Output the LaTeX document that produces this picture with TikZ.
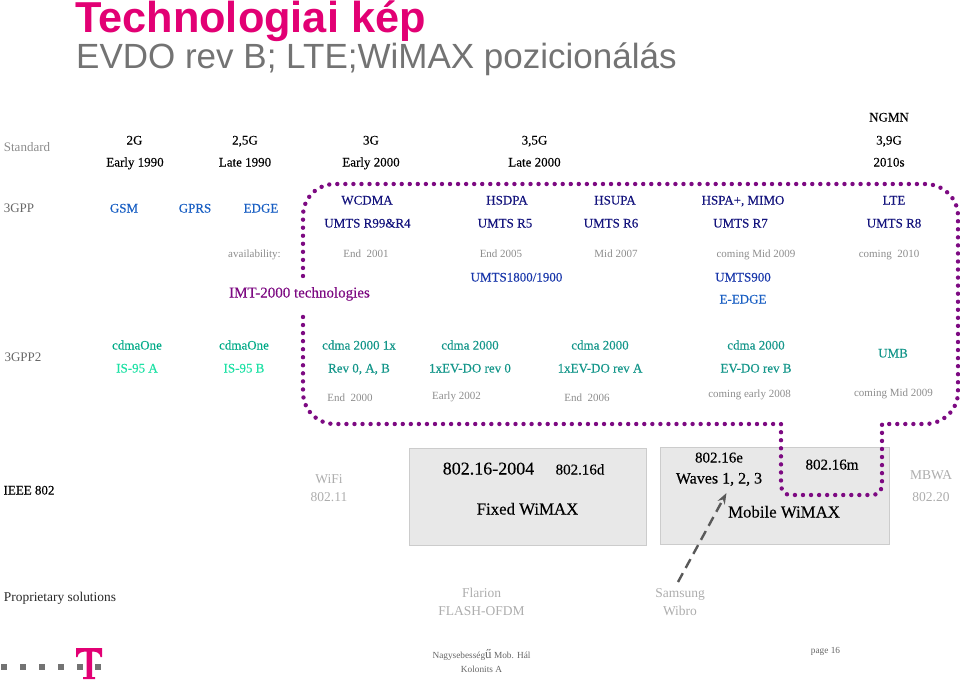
\documentclass[tikz,border=0pt]{standalone}
\usepackage{fontspec}
\setmainfont{Liberation Serif}
\newfontfamily\hdfont{Liberation Sans}
\newfontfamily\heavy[FakeBold=0.25]{Liberation Serif}
\usetikzlibrary{arrows.meta}
\definecolor{navyt}{RGB}{20,20,125}
\definecolor{bluet}{RGB}{25,95,195}
\definecolor{midb}{RGB}{25,55,170}
\definecolor{purp}{RGB}{125,10,130}
\definecolor{teal0}{RGB}{20,150,138}
\definecolor{teal1}{RGB}{0,170,135}
\definecolor{teal2}{RGB}{30,225,165}
\definecolor{magt}{RGB}{226,0,116}
\definecolor{boxg}{RGB}{232,232,232}
\tikzset{
 x=1pt,y=-1pt,
 lab/.style={inner sep=0pt,text height=9pt,text depth=0pt,font=\heavy\fontsize{13}{13}\selectfont},
 hd/.style={lab,text=black},
 rowh/.style={lab,font=\fontsize{13}{13}\selectfont,text=black!60},
 navy/.style={lab,text=navyt},
 blu/.style={lab,text=bluet},
 mid/.style={lab,text=midb},
 cdz/.style={lab,text=teal0},
 avail/.style={lab,text height=6pt,text=black!45,font=\fontsize{11}{11}\selectfont},
 faint/.style={lab,text=black!32,font=\fontsize{13.5}{13.5}\selectfont},
 cdA/.style={lab,text=teal1},
 cdB/.style={lab,text=teal2},
 big/.style={lab,text=black,font=\heavy\fontsize{15}{15}\selectfont},
 wm/.style={big,font=\heavy\fontsize{16.8}{16.8}\selectfont},
 foot/.style={lab,text height=6pt,text=black!60,font=\fontsize{9.3}{9.3}\selectfont},
 wmbox/.style={draw=black!20,fill=boxg,line width=0.8pt},
 dots/.style={draw=purp,line width=4.4pt,line cap=round,dash pattern=on 0pt off 8.05pt},
}
\begin{document}
\begin{tikzpicture}
\useasboundingbox (0,0) rectangle (960,682);
% title
\node[inner sep=0pt,anchor=west,text=magt,font=\hdfont\bfseries\fontsize{43.3}{43}\selectfont] (title) at (75,21) {Technologiai kép};
\node[inner sep=0pt,anchor=west,text=black!55,font=\hdfont\fontsize{35}{35}\selectfont] (sub) at (76,59) {EVDO rev B; LTE;WiMAX pozicionálás};
% grey boxes
\node[wmbox,minimum width=237pt,minimum height=97pt,anchor=north west,inner sep=0pt] (fixbox) at (409,448) {};
\node[wmbox,minimum width=229pt,minimum height=97pt,anchor=north west,inner sep=0pt] (mobbox) at (660,447) {};
% dotted region
\coordinate (s) at (303,276);
\draw[dots] (s) -- (303,216) .. controls (303,198) and (317,184) .. (335,184) -- (925,184)
 .. controls (943,184) and (958,198) .. (958,216) -- (958,392) .. controls (958,410) and (943,424) .. (925,424)
 -- (882,424) -- (882,484) .. controls (882,491) and (878,495) .. (872,495) -- (791,495)
 .. controls (785,495) and (781,491) .. (781,484) -- (781,424) -- (335,424)
 .. controls (317,424) and (303,410) .. (303,392) -- (303,315);
% row standard
\node[rowh,text=black!45] (std) at (27,147) {Standard};
\node[hd] (g2) at (134.5,140) {2G}; \node[hd] (g2d) at (135,162) {Early 1990};
\node[hd] (g25) at (245,140) {2,5G}; \node[hd] (g25d) at (245,162) {Late 1990};
\node[hd] (g3) at (371,140) {3G}; \node[hd] (g3d) at (371,162) {Early 2000};
\node[hd] (g35) at (534.5,140) {3,5G}; \node[hd] (g35d) at (534.5,162) {Late 2000};
\node[hd] (ngmn) at (889,117) {NGMN}; \node[hd] (g39) at (889,140) {3,9G}; \node[hd] (g39d) at (889,162) {2010s};
% 3GPP
\node[rowh] (tgpp) at (19,208) {3GPP};
\node[blu] (gsm) at (124,208) {GSM};
\node[blu] (gprs) at (195,208) {GPRS};
\node[blu] (edge) at (261,208) {EDGE};
\node[navy] (wcdma) at (367,200) {WCDMA}; \node[navy] (r99) at (367.5,223) {UMTS R99\&R4};
\node[navy] (hsdpa) at (507,200) {HSDPA}; \node[navy] (r5) at (505,223) {UMTS R5};
\node[navy] (hsupa) at (615,200) {HSUPA}; \node[navy] (r6) at (611,223) {UMTS R6};
\node[navy] (hspa) at (743,200) {HSPA+, MIMO}; \node[navy] (r7) at (740.5,223) {UMTS R7};
\node[navy] (lte) at (894,200) {LTE}; \node[navy] (r8) at (894,223) {UMTS R8};
% availability
\node[avail] (av) at (254.5,254) {availability:};
\node[avail] (a1) at (366,254) {End\ \ 2001};
\node[avail] (a2) at (501,254) {End 2005};
\node[avail] (a3) at (616,254) {Mid\ 2007};
\node[avail] (a4) at (756,254) {coming Mid 2009};
\node[avail] (a5) at (889,254) {coming\ \ 2010};
\node[mid] (u18) at (516.5,277) {UMTS1800/1900};
\node[mid] (u9) at (743,277) {UMTS900};
\node[blu] (eedge) at (743,299) {E-EDGE};
\node[lab,text=purp,font=\heavy\fontsize{15}{15}\selectfont] (imt) at (299.5,293) {IMT-2000 technologies};
% 3GPP2
\node[rowh] (tgpp2) at (23,357) {3GPP2};
\node[cdA] (c1) at (137,345) {cdmaOne}; \node[cdB] (c1b) at (137,368) {IS-95 A};
\node[cdA] (c2) at (244,345) {cdmaOne}; \node[cdB] (c2b) at (244,368) {IS-95 B};
\node[cdz] (c3) at (359,345) {cdma 2000 1x}; \node[cdz] (c3b) at (359,368) {Rev 0, A, B};
\node[cdz] (c4) at (470,345) {cdma 2000}; \node[cdz] (c4b) at (470,368) {1xEV-DO rev 0};
\node[cdz] (c5) at (600,345) {cdma 2000}; \node[cdz] (c5b) at (600,368) {1xEV-DO rev A};
\node[cdz] (c6) at (756,345) {cdma 2000}; \node[cdz] (c6b) at (756,368) {EV-DO rev B};
\node[cdz] (umb) at (893,353) {UMB};
\node[avail] (e1) at (350,398) {End\ \ 2000};
\node[avail] (e2) at (456.5,396) {Early 2002};
\node[avail] (e3) at (587,398) {End\ \ 2006};
\node[avail] (e4) at (749.5,394) {coming early 2008};
\node[avail] (e5) at (893.5,393) {coming Mid 2009};
% IEEE
\node[hd] (ieee) at (29,490) {IEEE 802};
\node[faint] (wifi) at (329,479) {WiFi}; \node[faint] (w11) at (329,497) {802.11};
\node[big,font=\heavy\fontsize{18}{18}\selectfont] (d04) at (488.5,470) {802.16-2004};
\node[big] (d16) at (580,470) {802.16d};
\node[wm] (fw) at (527.5,510) {Fixed WiMAX};
\node[big] (e16) at (719,458) {802.16e};
\node[big,font=\heavy\fontsize{16}{16}\selectfont] (w123) at (719,479) {Waves 1, 2, 3};
\node[big] (m16) at (832,465) {802.16m};
\node[wm] (mw) at (784,513) {Mobile WiMAX};
\node[faint] (mbwa) at (931,475) {MBWA}; \node[faint] (w20) at (931,497) {802.20};
% proprietary
\node[hd,text=black!85,font=\fontsize{13.4}{13.4}\selectfont] (prop) at (60,597) {Proprietary solutions};
\node[faint] (fl) at (481.5,593) {Flarion}; \node[faint] (fo) at (481.5,611) {FLASH-OFDM};
\node[faint] (sam) at (680,593) {Samsung}; \node[faint] (wib) at (680,611) {Wibro};
\coordinate (arrs) at (678,582);
\coordinate (arre) at (726.5,493);
\draw[black!65,line width=2.4pt,dash pattern=on 10pt off 6pt,-{Stealth[length=11pt,width=8pt]}] (arrs) -- (arre);
% footer
\node[foot] (f1) at (481.5,655) {Nagysebesség{\fontsize{13}{13}\selectfont ű} Mob. Hál};
\node[foot] (f2) at (481.5,669) {Kolonits A};
\node[foot] (pg) at (825.5,650) {page 16};
% logo
\fill[magt] (76,648) -- (102,648) -- (102,657) -- (100.5,657) .. controls (100,653) and (97,651.5) .. (92,651.5) -- (92,677) -- (95,677) -- (95,679) -- (83,679) -- (83,677) -- (86.5,677) -- (86.5,651.5) .. controls (81,651.5) and (78,653) .. (77.5,657) -- (76,657) -- cycle;
\foreach \px in {1,20,39,58,76.5,95}{\fill[black!55] (\px,663.5) rectangle ++(6,6);}
\end{tikzpicture}
\end{document}
